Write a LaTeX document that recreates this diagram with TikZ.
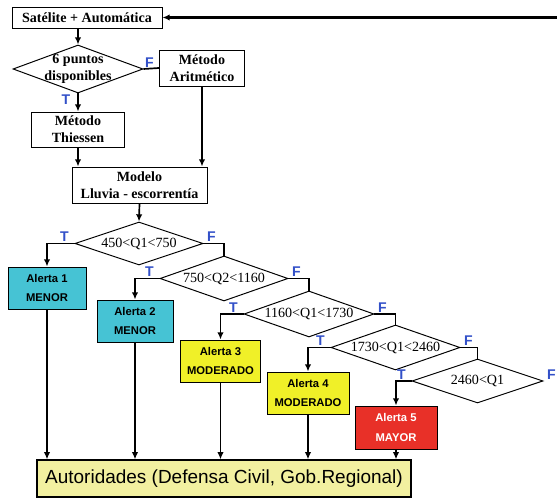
\documentclass[tikz,border=0pt]{standalone}
\usepackage{fontspec}
\setmainfont{Liberation Serif}
\setsansfont{Liberation Sans}
\usetikzlibrary{arrows.meta, positioning, shapes.geometric}

\definecolor{alertcyan}{RGB}{70,195,212}
\definecolor{alertyellow}{RGB}{240,240,40}
\definecolor{alertred}{RGB}{232,48,40}
\definecolor{authyellow}{RGB}{242,240,160}
\definecolor{tfblue}{RGB}{50,80,200}

\begin{document}
\begin{tikzpicture}[
    x=0.25mm, y=-0.25mm,
    procbox/.style={draw, line width=0.7pt, align=center, inner sep=1pt, font=\fontsize{10}{12}\selectfont\bfseries},
    decision/.style={draw, diamond, line width=0.7pt, inner sep=0pt, minimum width=32.5mm, minimum height=11.25mm},
    dtext/.style={font=\fontsize{10}{12}\selectfont, inner sep=0pt, align=center},
    alertbox/.style={draw, line width=0.7pt, align=center, minimum width=20mm, minimum height=10.5mm, font=\fontsize{8}{14}\selectfont\sffamily\bfseries},
    tf/.style={font=\fontsize{10}{12}\selectfont\sffamily\bfseries, text=tfblue, inner sep=1pt},
    tleft/.style={label={[tf, anchor=south east, xshift=-1mm]west:T}},
    fright/.style={label={[tf, anchor=south west, xshift=0.5mm]east:F}},
    flow/.style={line width=1.2pt},
    arrowstyle/.style={flow, -{Latex[length=1.8mm, width=1.6mm]}},
]
    \useasboundingbox (0,0) rectangle (557,499);

    % Data sources and interpolation
    \node[procbox, minimum width=37.5mm, minimum height=5.25mm] (sat) at (87,17.5) {Satélite + Automática};
    \node[decision, minimum height=12mm,
          label={[dtext, font=\fontsize{10}{12}\selectfont\bfseries]center:6 puntos\\disponibles},
          label={[tf, anchor=north east, xshift=-1.5mm]south:T},
          label={[tf, anchor=south west]east:F}] (disp) at (78,69) {};
    \node[procbox, minimum width=21.25mm, minimum height=9mm] (arit) at (202,68) {Método\\Aritmético};
    \node[procbox, minimum width=23.25mm, minimum height=8.75mm] (thie) at (78,129.5) {Método\\Thiessen};
    \node[procbox, minimum width=33.75mm, minimum height=9mm] (modelo) at (139.5,185) {Modelo\\Lluvia - escorrentía};
    \coordinate (ret) at (557,17.5);

    % Discharge thresholds
    \node[decision, minimum width=32mm, minimum height=10.75mm, tleft, fright,
          label={[dtext]center:450<Q1<750}] (q1) at (139,243.5) {};
    \node[decision, minimum width=32mm, tleft, fright,
          label={[dtext]center:750<Q2<1160}] (q2) at (224,278.5) {};
    \node[decision, minimum height=11.5mm, tleft, fright,
          label={[dtext]center:1160<Q1<1730}] (q3) at (309,314) {};
    \node[decision, minimum width=32.25mm, tleft, fright,
          label={[dtext]center:1730<Q1<2460}] (q4) at (395.5,347.5) {};
    \node[decision, minimum width=32.75mm, minimum height=11mm, tleft, fright,
          label={[dtext]center:2460<Q1}] (q5) at (477.5,381) {};

    % Alert levels
    \node[alertbox, fill=alertcyan, minimum width=19.5mm] (al1) at (47,288) {Alerta 1\\MENOR};
    \node[alertbox, fill=alertcyan, minimum width=19mm] (al2) at (135,321) {Alerta 2\\MENOR};
    \node[alertbox, fill=alertyellow] (al3) at (220.5,361) {Alerta 3\\MODERADO};
    \node[alertbox, fill=alertyellow, minimum width=20.5mm] (al4) at (308,393) {Alerta 4\\MODERADO};
    \node[alertbox, fill=alertred, text=white, minimum width=20.5mm, minimum height=10.75mm] (al5) at (396,427.5) {Alerta 5\\MAYOR};

    \node[draw, line width=0.9pt, fill=authyellow, minimum width=93.5mm, minimum height=9.25mm,
          font=\fontsize{13.5}{16}\selectfont\sffamily] (aut) at (224,478.5) {Autoridades (Defensa Civil, Gob.Regional)};

    % Connectors
    \draw[arrowstyle, line width=1.6pt] (ret) -- (sat.east);
    \draw[arrowstyle] (disp.north |- sat.south) -- (disp.north);
    \draw[flow] (disp.east) -- (arit.west);
    \draw[arrowstyle] (disp.south) -- (thie.north);
    \draw[arrowstyle] (thie.south) -- (thie.south |- modelo.north);
    \draw[arrowstyle] (arit.south) -- (arit.south |- modelo.north);
    \draw[arrowstyle] (modelo.south) -- (q1.north);

    \draw[arrowstyle] (q1.west) -| (al1.north);
    \draw[flow] (q1.east) -| (q2.north);
    \draw[arrowstyle] (q2.west) -| (al2.north);
    \draw[flow] (q2.east) -| (q3.north);
    \draw[arrowstyle] (q3.west) -| (al3.north);
    \draw[flow] (q3.east) -| (q4.north);
    \draw[arrowstyle] (q4.west) -| (al4.north);
    \draw[flow] (q4.east) -| (q5.north);
    \draw[arrowstyle] (q5.west) -| (al5.north);

    \foreach \al in {al1, al2, al3, al4, al5}
        \draw[arrowstyle] (\al.south) -- (\al.south |- aut.north);

\end{tikzpicture}
\end{document}
